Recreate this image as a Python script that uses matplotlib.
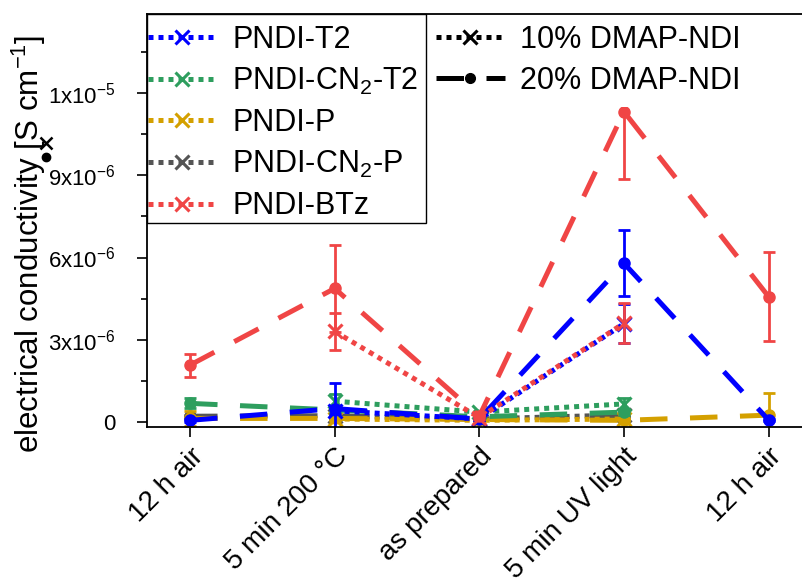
import numpy as np
import matplotlib
matplotlib.use("Agg")
import matplotlib.pyplot as plt
from matplotlib.lines import Line2D
from matplotlib.patches import Rectangle

plt.rcParams['font.family'] = ['Liberation Sans', 'DejaVu Sans']
plt.rcParams['mathtext.fontset'] = 'custom'
plt.rcParams['mathtext.rm'] = 'Liberation Sans'
plt.rcParams['mathtext.it'] = 'Liberation Sans'

categories = ["12 h air", "5 min 200 °C", "as prepared", "5 min UV light", "12 h air"]
nan = np.nan

polymers = ["PNDI-T2", "PNDI-CN$_2$-T2", "PNDI-P", "PNDI-CN$_2$-P", "PNDI-BTz"]
colors = ["#0000FF", "#2E9E5E", "#D4A000", "#555555", "#F04545"]

# 10% DMAP-NDI (units of 1e-6 S/cm)
t2_10 = [nan, 0.40, 0.10, 3.58, nan]
t2_10_err = [nan, 0.10, 0.05, 0.72, nan]
cnt2_10 = [nan, 0.75, 0.35, 0.65, nan]
cnt2_10_err = [nan, 0.25, 0.05, 0.20, nan]
p_10 = [nan, 0.10, 0.05, 0.10, nan]
p_10_err = [nan, 0.05, 0.03, 0.05, nan]
cnp_10 = [nan, 0.20, 0.10, 0.25, nan]
cnp_10_err = [nan, 0.05, 0.03, 0.05, nan]
btz_10 = [nan, 3.30, 0.15, 3.60, nan]
btz_10_err = [nan, 0.67, 0.05, 0.74, nan]

# 20% DMAP-NDI
t2_20 = [0.05, 0.48, 0.10, 5.79, 0.06]
t2_20_err = [0.05, 0.92, 0.05, 1.21, 0.05]
cnt2_20 = [0.67, 0.43, 0.18, 0.35, nan]
cnt2_20_err = [0.18, 0.10, 0.05, 0.10, nan]
p_20 = [0.12, 0.12, 0.08, 0.05, 0.24]
p_20_err = [0.27, 0.10, 0.05, 0.05, 0.80]
cnp_20 = [0.20, 0.22, 0.10, 0.20, nan]
cnp_20_err = [0.05, 0.05, 0.03, 0.05, nan]
btz_20 = [2.07, 4.87, 0.20, 11.33, 4.57]
btz_20_err = [0.42, 1.60, 0.10, 2.46, 1.62]

series10 = [t2_10, cnt2_10, p_10, cnp_10, btz_10]
series10_err = [t2_10_err, cnt2_10_err, p_10_err, cnp_10_err, btz_10_err]
series20 = [t2_20, cnt2_20, p_20, cnp_20, btz_20]
series20_err = [t2_20_err, cnt2_20_err, p_20_err, cnp_20_err, btz_20_err]

ytick_vals = [0, 3e-6, 6e-6, 9e-6, 1.2e-5]
ytick_labels = ["0", "3x10$^{-6}$", "6x10$^{-6}$", "9x10$^{-6}$", "1x10$^{-5}$"]

W, H = 803, 583
fig = plt.figure(figsize=(W / 100, H / 100), dpi=100)
ax = fig.add_axes([147 / W, 1 - 426.5 / H, (812 - 147) / W, (426.5 - 14) / H])

x = np.arange(len(categories))
lw = 3.6
dot_dash = (1.0, 1.0)
long_dash = (5.5, 4.5)

draw_order = [3, 2, 1, 0, 4]
for i in draw_order:
    c = colors[i]
    y10 = np.array(series10[i]) * 1e-6
    e10 = np.array(series10_err[i]) * 1e-6
    y20 = np.array(series20[i]) * 1e-6
    e20 = np.array(series20_err[i]) * 1e-6
    ax.errorbar(x, y10, yerr=e10, color=c, lw=lw, ls='none', elinewidth=2,
                capsize=4.5, capthick=2, zorder=3)
    ax.plot(x, y10, color=c, lw=lw, dashes=dot_dash, dash_capstyle='butt',
            marker='x', markersize=10, mew=2.2, zorder=3)
    ax.errorbar(x, y20, yerr=e20, color=c, lw=lw, ls='none', elinewidth=2,
                capsize=4.5, capthick=2, zorder=3)
    ax.plot(x, y20, color=c, lw=lw, dashes=long_dash, dash_capstyle='butt',
            marker='o', markersize=8, zorder=3)

ax.set_xlim(-0.2976, 4.30)
ax.set_ylim(-0.175e-6, 14.9e-6)
ax.set_yticks(ytick_vals)
ax.set_yticklabels(ytick_labels, fontsize=16)
ax.set_yticks(np.arange(1.5e-6, 14.9e-6, 3e-6), minor=True)
ax.set_xticks(x)
ax.set_xticklabels(categories, fontsize=20, rotation=45, ha='right', va='top',
                   rotation_mode='anchor')
ax.tick_params(axis='both', which='major', direction='out', length=7, width=1.2)
ax.tick_params(axis='y', which='major', pad=16)
ax.tick_params(axis='x', which='major', pad=5)
ax.tick_params(axis='y', which='minor', direction='out', length=4, width=1.2)
ax.spines['right'].set_visible(False)
for s in ['left', 'top', 'bottom']:
    ax.spines[s].set_linewidth(1.3)
    ax.spines[s].set_zorder(12)

# legend 1 box (white fill below the entries, black outline on top)
box_xy = (147 / W, 1 - 223 / H)
box_w, box_h = (426 - 147) / W, (223 - 14) / H
ax.add_patch(Rectangle(box_xy, box_w, box_h, transform=fig.transFigure,
                       facecolor='white', edgecolor='none', zorder=9, clip_on=False))
ax.add_patch(Rectangle(box_xy, box_w, box_h, transform=fig.transFigure,
                       facecolor='none', edgecolor='black', lw=1.0, zorder=12,
                       clip_on=False))

# legend 1: polymers
h1 = [Line2D([], [], color=c, lw=lw, dashes=dot_dash, dash_capstyle='butt',
             marker='x', markersize=10, mew=2.2) for c in colors]
leg1 = ax.legend(h1, polymers, loc='upper left', bbox_to_anchor=(148 / W, 1 - 25 / H),
                 bbox_transform=fig.transFigure, borderaxespad=0, fontsize=22,
                 handlelength=2.25, handletextpad=0.5, labelspacing=0.36,
                 borderpad=0.0, frameon=False)
leg1.set_zorder(10)
ax.add_artist(leg1)

h2 = [Line2D([], [], color='black', lw=lw, dashes=dot_dash, dash_capstyle='butt',
             marker='x', markersize=10, mew=2.2),
      Line2D([], [], color='black', lw=lw, dashes=long_dash, dash_capstyle='butt',
             marker='o', markersize=7)]
leg2 = ax.legend(h2, ["10% DMAP-NDI", "20% DMAP-NDI"], loc='upper left',
                 bbox_to_anchor=(425 / W, 1 - 14 / H), bbox_transform=fig.transFigure,
                 borderaxespad=0, fontsize=22, handlelength=2.25, handletextpad=0.5,
                 labelspacing=0.36, borderpad=0.36, frameon=True, fancybox=False,
                 framealpha=1, edgecolor='none', facecolor='white')
leg2.set_zorder(10)

fig.text(29 / W, 1 - 243.5 / H, "electrical conductivity [S cm$^{-1}$]", rotation=90,
         ha='center', va='center', fontsize=22.5)
fig.add_artist(Line2D([45.7 / W], [1 - 156.7 / H], transform=fig.transFigure,
                      marker='o', color='black', markersize=6, ls='none'))
fig.add_artist(Line2D([45.7 / W], [1 - 143.3 / H], transform=fig.transFigure,
                      marker='x', color='black', markersize=8, mew=1.8, ls='none'))

fig.savefig("out.png", dpi=100)
